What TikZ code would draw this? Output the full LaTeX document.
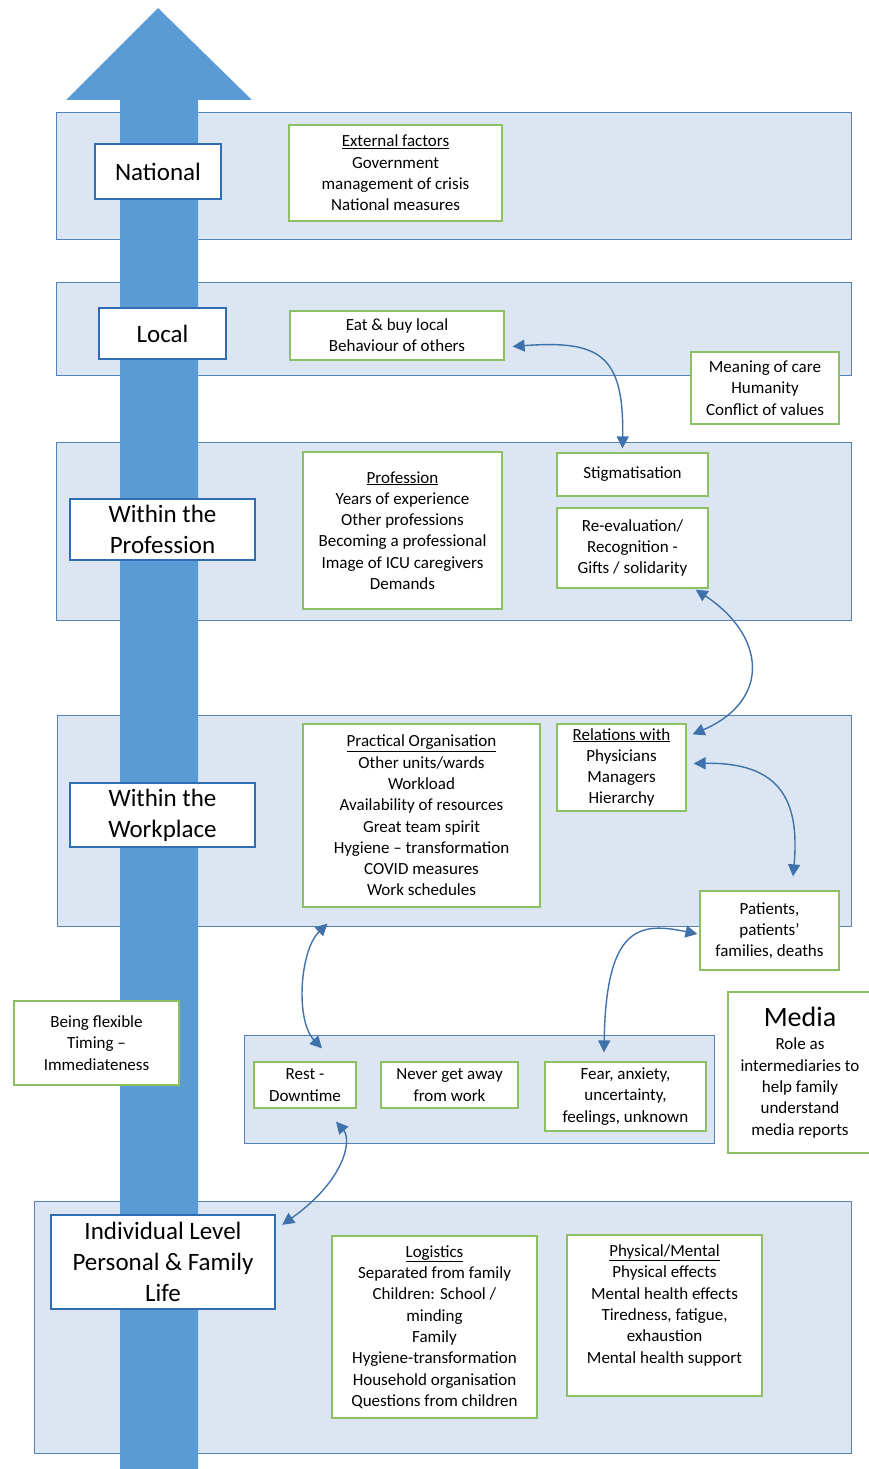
\documentclass[tikz,border=0pt]{standalone}
\usepackage{fontspec}
\setmainfont{Carlito}
\usepackage{tikz}
\usetikzlibrary{arrows.meta}
\definecolor{bandfill}{HTML}{DCE6F2}
\definecolor{bandline}{HTML}{5682B9}
\definecolor{shaftblue}{HTML}{5B9BD5}
\definecolor{levelline}{HTML}{2F6EB5}
\definecolor{itemline}{HTML}{8DC063}
\definecolor{linkblue}{HTML}{3F72AB}

\begin{document}
\begin{tikzpicture}[x=1pt,y=-1pt,
		band/.style={draw=bandline,fill=bandfill,line width=1pt,inner sep=0pt},
		level/.style={draw=levelline,fill=white,line width=2.4pt,inner sep=0pt,align=center,font=\fontsize{25}{31}\selectfont},
		item/.style={draw=itemline,fill=white,line width=1.2pt,inner sep=0pt,align=center,font=\fontsize{17}{21.3}\selectfont},
		link/.style={draw=linkblue,line width=1.4pt,{Triangle[width=12pt,length=12pt]}-{Triangle[width=12pt,length=12pt]}}]
		\useasboundingbox (0,0) rectangle (869,1469);
		\node[band,minimum width=795pt,minimum height=126pt] (bnational) at (453.5,176) {};
		\node[band,minimum width=795pt,minimum height=93pt] (blocal) at (453.5,328.5) {};
		\node[band,minimum width=795pt,minimum height=178pt] (bprofession) at (453.5,531) {};
		\node[band,minimum width=794pt,minimum height=211pt] (bworkplace) at (454,820.5) {};
		\node[band,minimum width=470pt,minimum height=108pt] (bhome) at (479,1089) {};
		\node[band,minimum width=817pt,minimum height=252pt] (bindividual) at (442.5,1327) {};
		\fill[shaftblue] (120,1475) -- (120,100) -- (66,100) -- (158,8) -- (252,100) -- (198,100) -- (198,1475) -- cycle;
		\node[level,minimum width=126pt,minimum height=55pt] (national) at (158,171.5) {National};
		\node[level,minimum width=127pt,minimum height=51pt] (local) at (162.5,333.5) {Local};
		\node[level,minimum width=185pt,minimum height=61pt] (profession) at (162.5,529.5) {Within the\\Profession};
		\node[level,minimum width=185pt,minimum height=64pt] (workplace) at (162.5,815) {Within the\\Workplace};
		\node[level,minimum width=224pt,minimum height=94pt] (individual) at (163,1262) {Individual Level\\Personal \& Family\\Life};
		\node[item,minimum width=213pt,minimum height=96pt] (external) at (395.5,173) {\underline{External factors}\\Government\\management of crisis\\National measures};
		\node[item,minimum width=214pt,minimum height=49pt] (eat) at (397,335.5) {Eat \& buy local\\Behaviour of others};
		\node[item,minimum width=148pt,minimum height=72pt] (meaning) at (765,388) {Meaning of care\\Humanity\\Conflict of values};
		\node[item,minimum width=199pt,minimum height=157pt] (prof) at (402.5,530.5) {\underline{Profession}\\Years of experience\\Other professions\\Becoming a professional\\Image of ICU caregivers\\Demands};
		\node[item,minimum width=151pt,minimum height=43pt] (stigma) at (632.5,474.5) {Stigmatisation};
		\node[item,minimum width=151pt,minimum height=80pt] (reeval) at (632.5,548) {Re-evaluation/\\Recognition -\\Gifts / solidarity};
		\node[item,minimum width=237pt,minimum height=183pt] (practical) at (421.5,815.5) {\underline{Practical Organisation}\\Other units/wards\\Workload\\Availability of resources\\Great team spirit\\Hygiene – transformation\\COVID measures\\Work schedules};
		\node[item,minimum width=129pt,minimum height=87pt] (relations) at (621.5,767.5) {\underline{Relations with}\\Physicians\\Managers\\Hierarchy};
		\node[item,minimum width=139pt,minimum height=79pt] (patients) at (769.5,930.5) {Patients,\\patients’\\families, deaths};
		\node[item,minimum width=165pt,minimum height=84pt] (flexible) at (96.5,1043) {Being flexible\\Timing –\\Immediateness};
		\node[item,minimum width=102pt,minimum height=46pt] (rest) at (305,1085) {Rest -\\Downtime};
		\node[item,minimum width=137pt,minimum height=46pt] (never) at (449.5,1085) {Never get away\\from work};
		\node[item,minimum width=161pt,minimum height=69pt] (fear) at (625.5,1096.5) {Fear, anxiety,\\uncertainty,\\feelings, unknown};
		\node[item,minimum width=144pt,minimum height=161pt] (media) at (800,1072.5) {{\fontsize{28}{34}\selectfont Media}\\[2pt]Role as\\intermediaries to\\help family\\understand\\media reports};
		\node[item,minimum width=205pt,minimum height=182pt] (logistics) at (434.5,1327) {\underline{Logistics}\\Separated from family\\Children: School /\\minding\\Family\\Hygiene-transformation\\Household organisation\\Questions from children};
		\node[item,minimum width=195pt,minimum height=161pt] (physical) at (664.5,1315.5) {\underline{Physical/Mental}\\Physical effects\\Mental health effects\\Tiredness, fatigue,\\exhaustion\\Mental health support\\[2pt]\mbox{}};
		\draw[link] ([xshift=8pt,yshift=-11pt]eat.east) .. controls (600,340) and (624,355) .. ([xshift=-10pt,yshift=4pt]stigma.north);
		\draw[link] ([xshift=-13pt,yshift=-1pt]reeval.south east) .. controls (765,635) and (772,700) .. ([xshift=6pt,yshift=-11pt]relations.north east);
		\draw[link] ([xshift=7pt,yshift=4pt]relations.east) .. controls (780,762) and (800,800) .. ([xshift=23.5pt,yshift=14pt]patients.north);
		\draw[link] ([xshift=-94pt,yshift=-16pt]practical.south) .. controls (300,950) and (295,1020) .. ([xshift=17pt,yshift=13pt]rest.north);
		\draw[link] ([xshift=-2pt,yshift=-3.5pt]patients.west) .. controls (640,922) and (606,925) .. ([xshift=-21.5pt,yshift=9pt]fear.north);
		\draw[link] ([xshift=31pt,yshift=-13pt]rest.south) .. controls (352,1140) and (345,1180) .. ([xshift=6pt,yshift=-11pt]individual.north east);
\end{tikzpicture}
\end{document}
